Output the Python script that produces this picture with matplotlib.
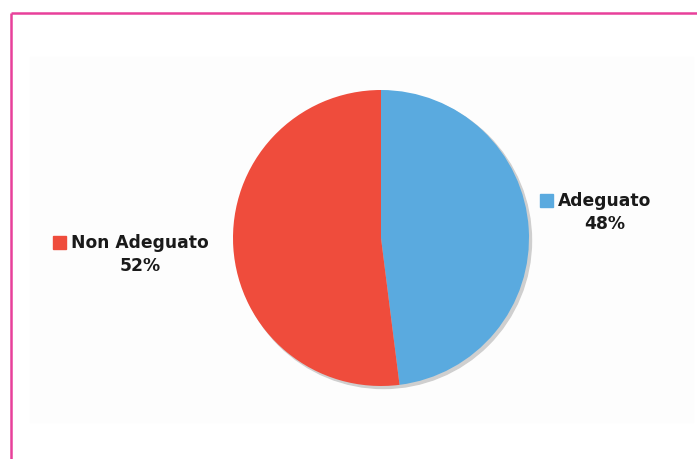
import numpy as np
import matplotlib
matplotlib.use("Agg")
import matplotlib.pyplot as plt
from matplotlib.patches import Circle, Rectangle

# dati
categories = ["Adeguato", "Non Adeguato"]
values = [48, 52]
colors = ["#5aaadf", "#ef4c3c"]

W, H = 697, 459
fig = plt.figure(figsize=(W / 100, H / 100), dpi=100)
ax = fig.add_axes([0, 0, 1, 1])

# cornice rosa (solo sopra e a sinistra)
ax.plot([11, W], [13, 13], color="#e8409a", lw=1.8, solid_capstyle="butt")
ax.plot([11, 11], [13, H], color="#e8409a", lw=1.8, solid_capstyle="butt")

# area del grafico
ax.add_patch(Rectangle((30, 57), 663, 365, color="#fdfdfd", zorder=0))

cx, cy, r = 381, 238, 148

# ombra
ax.add_patch(Circle((cx + 2.5, cy + 2.5), r, color="#cfcfcf", zorder=1))

# y invertito: counterclock=True appare in senso orario
wedges, _ = ax.pie(values, colors=colors, startangle=-90, counterclock=True,
                   center=(cx, cy), radius=r, frame=True,
                   wedgeprops=dict(linewidth=0, zorder=2))
ax.set_xlim(0, W)
ax.set_ylim(H, 0)
ax.set_aspect("equal")
ax.axis("off")

# etichette
tot = sum(values)
lab_pos = [(540, 200), (53, 242)]
for cat, v, c, (lx, ly) in zip(categories, values, colors, lab_pos):
    ax.add_patch(Rectangle((lx, ly - 6), 13, 13, color=c, zorder=3))
    tx = lx + 18
    t = ax.text(tx, ly + 1, cat, fontsize=12.3, fontweight="bold",
                color="#1a1a1a", ha="left", va="center", zorder=4)
    fig.canvas.draw()
    bb = t.get_window_extent().transformed(ax.transData.inverted())
    mid = (bb.x0 + bb.x1) / 2
    ax.text(mid, ly + 24, f"{round(100 * v / tot)}%", fontsize=12.3,
            fontweight="bold", color="#1a1a1a", ha="center", va="center", zorder=4)

fig.savefig("out.png", dpi=100)
